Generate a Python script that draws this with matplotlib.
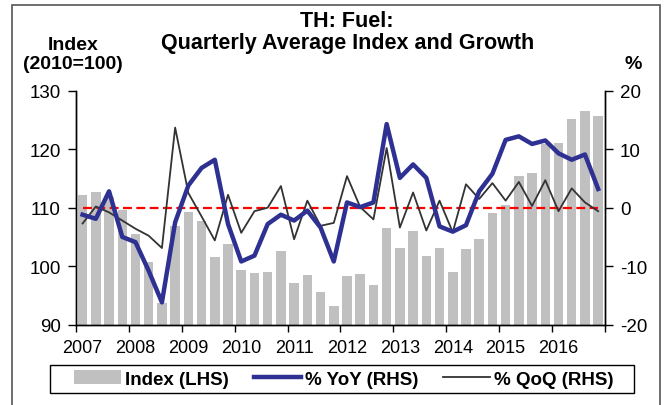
import numpy as np
import matplotlib
matplotlib.use("Agg")
from matplotlib import pyplot as plt
from matplotlib.patches import Rectangle

plt.rcParams['font.family'] = ['Liberation Sans', 'DejaVu Sans']
plt.rcParams['axes.unicode_minus'] = False

# quarterly data, 2007Q1 .. 2016Q4
years = [str(y) for y in range(2007, 2017)]
index_lhs = [112.2, 112.6, 111.9, 109.6, 105.5, 100.7, 93.7, 106.8, 109.3, 107.7,
             101.5, 103.8, 99.4, 98.9, 99.0, 102.6, 97.2, 98.5, 95.5, 93.1,
             98.3, 98.7, 96.7, 106.6, 103.1, 106.0, 101.7, 103.1, 99.0, 103.0,
             104.7, 109.1, 110.5, 115.5, 116.0, 120.9, 121.1, 125.2, 126.5, 125.7]
yoy = [-1.2, -1.9, 2.8, -5.0, -5.9, -10.8, -16.2, -2.5, 3.8, 6.8,
       8.2, -2.8, -9.2, -8.2, -2.8, -1.2, -2.2, -0.5, -3.4, -9.2,
       0.9, 0.1, 0.9, 14.3, 5.1, 7.4, 5.1, -3.2, -4.1, -3.0,
       2.8, 5.8, 11.6, 12.2, 10.9, 11.5, 9.3, 8.2, 9.1, 3.2]
qoq = [-2.7, 0.2, -0.8, -2.2, -3.6, -4.8, -6.9, 13.7, 2.5, -1.5,
       -5.6, 2.2, -4.3, -0.6, 0.0, 3.7, -5.4, 1.2, -3.1, -2.6,
       5.4, 0.1, -2.0, 10.2, -3.4, 2.6, -3.9, 1.2, -4.2, 4.0,
       1.5, 4.2, 1.2, 4.4, 0.3, 4.7, -0.6, 3.3, 0.9, -0.6]
zero_line = [0.0] * len(yoy)

x = np.arange(len(index_lhs))

fig = plt.figure(figsize=(6.69, 4.06), dpi=100)
ax = fig.add_axes([0.1136, 0.198, 0.7904, 0.576])
ax2 = ax.twinx()

bars = ax.bar(x, index_lhs, width=0.72, color='#c0c0c0', label='Index (LHS)', zorder=1)
ax.set_ylim(90, 130)
ax.set_yticks([90, 100, 110, 120, 130])
ax.set_xlim(-0.5, len(x) - 0.5)
ax.set_xticks(np.arange(-0.5, len(x), 4))
ax.set_xticklabels([])
ax.set_xticks(np.arange(0, len(x), 4), minor=True)
ax.set_xticklabels(years, minor=True)
ax.tick_params(axis='x', which='major', length=5, width=1, direction='out')
ax.tick_params(axis='x', which='minor', length=0, pad=10, labelsize=13)
ax.tick_params(axis='y', length=5.5, width=1, direction='out', labelsize=13.5, pad=5.5)

ax2.plot(x, zero_line, color='#ff0000', lw=1.6, ls=(0, (4, 2)), zorder=2)
l_qoq, = ax2.plot(x, qoq, color='#333333', lw=1.3, label='% QoQ (RHS)', zorder=3)
l_yoy, = ax2.plot(x, yoy, color='#2e3192', lw=3.2, label='% YoY (RHS)', zorder=4)
ax2.set_ylim(-20, 20)
ax2.set_yticks([-20, -10, 0, 10, 20])
ax2.tick_params(axis='y', length=5.5, width=1, direction='out', labelsize=13.5, pad=5.5)

for a in (ax, ax2):
    a.spines['top'].set_visible(False)
    for s in ('left', 'right', 'bottom'):
        a.spines[s].set_linewidth(1.0)
        a.spines[s].set_color('black')

fig.text(0.519, 0.948, 'TH: Fuel:', ha='center', va='center', fontsize=15.5, fontweight='bold')
fig.text(0.519, 0.893, 'Quarterly Average Index and Growth', ha='center', va='center',
         fontsize=15.5, fontweight='bold')
fig.text(0.109, 0.889, 'Index', ha='center', va='center', fontsize=14, fontweight='bold')
fig.text(0.109, 0.842, '(2010=100)', ha='center', va='center', fontsize=14, fontweight='bold')
fig.text(0.946, 0.842, '%', ha='center', va='center', fontsize=14, fontweight='bold')

# legend box drawn by hand so its edges sit where the reference has them
fig.patches.append(Rectangle((50 / 669, 1 - 394 / 406), 584 / 669, 28 / 406,
                             transform=fig.transFigure, fill=False,
                             edgecolor='black', lw=1.0))
fig.legend([bars, l_yoy, l_qoq], ['Index (LHS)', '% YoY (RHS)', '% QoQ (RHS)'],
           loc='center', bbox_to_anchor=(344 / 669, 1 - 380 / 406), ncol=3,
           frameon=False, prop={'weight': 'bold', 'size': 13.5},
           handlelength=2.5, handletextpad=0.2, columnspacing=1.35, borderpad=0.1)

fig.patches.append(Rectangle((12 / 669, -0.05), 648 / 669, 1.05 - 6 / 406,
                             transform=fig.transFigure, fill=False,
                             edgecolor='#555555', lw=1.2))

fig.savefig('out.png', dpi=100)
